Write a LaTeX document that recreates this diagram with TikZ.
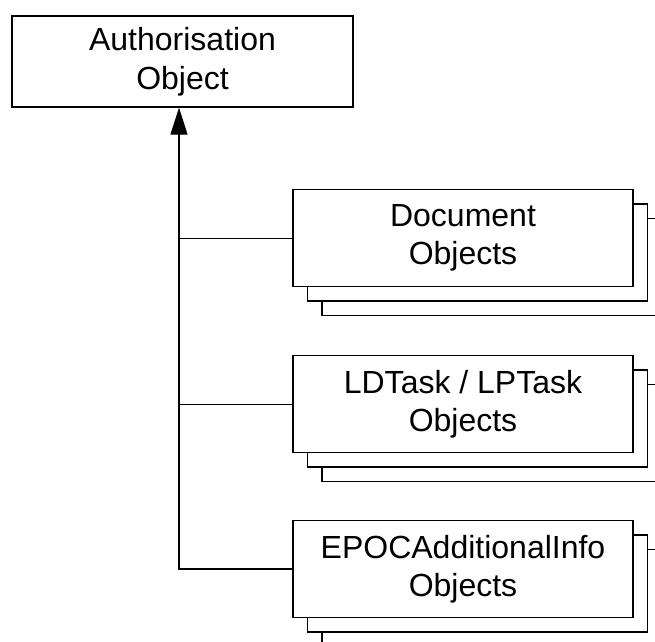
\documentclass[tikz,border=0pt]{standalone}
\usepackage{fontspec}
\setmainfont{Liberation Sans}
\usetikzlibrary{arrows.meta, shadows}
\tikzstyle{auth-box}=[draw, line width=1.3pt, fill=white, rectangle, minimum width=341pt, minimum height=91pt, inner sep=0pt, align=center, font=\fontsize{32}{38.5}\selectfont]
\tikzstyle{object-box}=[auth-box, minimum width=340pt, minimum height=97pt, copy shadow={shadow xshift=29pt, shadow yshift=-29pt}, copy shadow={shadow xshift=14.5pt, shadow yshift=-14.5pt}]
\tikzstyle{branch}=[line width=1pt]
\tikzstyle{inherit}=[line width=1.3pt, -{Triangle[length=27pt, width=17pt]}]
\begin{document}
\begin{tikzpicture}[x=1pt, y=-1pt]
\path[use as bounding box, clip] (0,0) rectangle (655,641);

\node[auth-box] (auth) at (182.5,61.5) {Authorisation\\Object};

\node[object-box] (doc)  at (463,238) {Document\\Objects};
\node[object-box] (task) at (463,404) {LDTask / LPTask\\Objects};
\node[object-box] (info) at (463,569) {EPOCAdditionalInfo\\Objects};

\coordinate (trunk) at ([xshift=-3.5pt]auth.south);
\draw[inherit] (info.west) -| (trunk);
\draw[branch] (doc.west) -- (doc.west -| trunk);
\draw[branch] (task.west) -- (task.west -| trunk);
\end{tikzpicture}
\end{document}
